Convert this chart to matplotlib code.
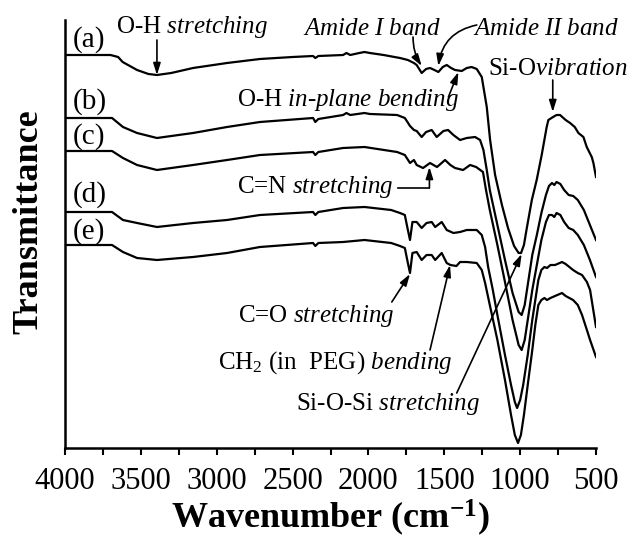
import matplotlib
matplotlib.use('Agg')
import matplotlib.pyplot as plt
from matplotlib.ticker import MultipleLocator

plt.rcParams['font.family'] = ['Liberation Serif', 'DejaVu Serif']
plt.rcParams['mathtext.fontset'] = 'custom'
plt.rcParams['mathtext.rm'] = 'Liberation Serif'
plt.rcParams['mathtext.it'] = 'Liberation Serif:italic'
plt.rcParams['mathtext.bf'] = 'Liberation Serif:bold'

# spectra (transmittance in arbitrary units, offset per sample)
wn_a = [4000, 3700, 3650, 3620, 3525, 3450, 3394, 3300, 3156, 2932, 2715, 2500, 2365, 2350, 2330,
        2167, 2145, 2120, 2060, 2026, 1990, 1900, 1792, 1740, 1700, 1682, 1649, 1620, 1594, 1565,
        1539, 1510, 1484, 1455, 1429, 1385, 1352, 1320, 1286, 1253, 1220, 1198, 1165, 1120, 1080,
        1040, 1010, 994, 975, 956, 923, 891, 858, 825, 814, 783, 760, 737, 700, 671, 640, 616,
        583, 561, 528, 517, 500]
t_a = [393, 393, 391, 386, 378, 374, 373, 375, 380, 385, 389, 391, 392, 390, 392,
       393, 395, 393, 395, 396, 395, 393, 390, 388, 385, 383, 375, 379, 380, 378,
       376, 381, 383, 380, 378, 377, 380, 381, 379, 371, 341, 308, 273, 243, 220,
       202, 195, 195, 203, 220, 248, 268, 293, 321, 328, 331, 333, 333, 328, 325, 321, 315,
       311, 301, 291, 285, 271]

wn_b = [4000, 3690, 3618, 3525, 3394, 3156, 2932, 2715, 2365, 2350, 2330, 2167, 2145, 2120, 2026,
        1990, 1811, 1760, 1726, 1700, 1682, 1649, 1620, 1583, 1550, 1506, 1475, 1440, 1396, 1352,
        1297, 1264, 1242, 1220, 1200, 1150, 1100, 1050, 1010, 990, 970, 950, 920, 890, 860, 830,
        810, 790, 775, 760, 735, 710, 680, 650, 620, 580, 540, 500]
t_b = [330, 330, 321, 315, 310, 315, 321, 326, 330, 326, 329, 333, 335, 333, 335,
       334, 333, 330, 322, 318, 317, 311, 316, 318, 311, 317, 318, 313, 308, 310,
       311, 308, 298, 278, 258, 223, 188, 155, 136, 133, 143, 163, 193, 213, 235, 253,
       262, 265, 263, 266, 264, 258, 253, 252, 248, 238, 223, 208]

wn_c = [4000, 3690, 3618, 3525, 3394, 3156, 2932, 2715, 2365, 2350, 2330, 2167, 2026, 1811, 1760,
        1726, 1700, 1682, 1640, 1594, 1548, 1495, 1460, 1429, 1376, 1330, 1290, 1245, 1225, 1200,
        1150, 1100, 1050, 1010, 990, 970, 950, 920, 890, 860, 830, 810, 790, 775, 760, 735, 710,
        680, 650, 620, 580, 540, 500]
t_c = [297, 297, 290, 283, 278, 283, 288, 293, 296, 293, 296, 300, 301, 296, 293,
       285, 288, 283, 280, 285, 281, 288, 283, 280, 278, 283, 281, 276, 258, 238,
       203, 166, 128, 103, 98, 108, 128, 158, 183, 208, 226, 233, 233, 231, 235, 233, 226,
       220, 218, 213, 203, 188, 171]

wn_d = [4000, 3690, 3618, 3525, 3394, 3156, 2932, 2715, 2365, 2350, 2330, 2167, 2026, 1850, 1792,
        1760, 1740, 1726, 1710, 1682, 1649, 1617, 1583, 1560, 1517, 1484, 1440, 1396, 1352, 1286,
        1253, 1231, 1211, 1180, 1150, 1100, 1060, 1035, 1020, 1000, 980, 950, 920, 900, 880, 860,
        840, 823, 800, 770, 724, 700, 651, 620, 592, 560, 539, 500]
t_d = [236, 236, 228, 225, 221, 225, 228, 233, 236, 233, 236, 240, 241, 238, 235,
       233, 218, 208, 226, 226, 220, 225, 226, 221, 226, 218, 215, 216, 218, 218,
       213, 201, 181, 158, 133, 93, 63, 46, 40, 48, 63, 93, 128, 148, 168, 178,
       181, 180, 183, 183, 186, 184, 178, 175, 173, 166, 158, 121]

wn_e = [4000, 3690, 3618, 3525, 3394, 3156, 2932, 2715, 2365, 2350, 2330, 2167, 2026, 1850, 1792,
        1760, 1740, 1726, 1710, 1682, 1649, 1617, 1583, 1560, 1517, 1484, 1460, 1420, 1396, 1352,
        1286, 1253, 1231, 1200, 1150, 1100, 1060, 1035, 1014, 995, 975, 950, 920, 900, 880, 860,
        840, 823, 800, 770, 724, 700, 651, 620, 592, 560, 539, 500]
t_e = [203, 203, 196, 190, 188, 191, 195, 201, 205, 202, 205, 206, 208, 205, 202,
       200, 185, 175, 195, 196, 188, 193, 193, 188, 195, 185, 183, 182, 186, 186,
       185, 178, 165, 143, 108, 68, 33, 13, 5, 13, 33, 63, 98, 123, 143, 148,
       150, 148, 150, 152, 155, 152, 148, 143, 133, 118, 108, 91]

curves = [(wn_a, t_a), (wn_b, t_b), (wn_c, t_c), (wn_d, t_d), (wn_e, t_e)]
names = ['(a)', '(b)', '(c)', '(d)', '(e)']
name_y = [408, 346, 311, 253, 216]

fig = plt.figure(figsize=(6.38, 5.41), dpi=100)
ax = fig.add_axes([65 / 638, 93 / 541, 531 / 638, 428 / 541])

for wn, t in curves:
    ax.plot(wn, t, color='black', lw=1.6)

for n, y in zip(names, name_y):
    ax.text(3950, y, n, fontsize=21, va='center', ha='left')

ax.set_xlim(4000, 500)
ax.set_ylim(0, 428)
ax.set_xticks([4000, 3500, 3000, 2500, 2000, 1500, 1000, 500])
ax.xaxis.set_minor_locator(MultipleLocator(250))
ax.tick_params(axis='x', which='major', direction='out', length=5, width=1.5, labelsize=22, pad=9)
ax.tick_params(axis='x', which='minor', direction='out', length=5, width=1.5)
ax.set_yticks([])
ax.spines['top'].set_visible(False)
ax.spines['right'].set_visible(False)
ax.spines['left'].set_linewidth(1.8)
ax.spines['bottom'].set_linewidth(1.8)

ax.set_xlabel(r'Wavenumber (cm$^{\mathbf{-1}}$)', fontsize=26, fontweight='bold', labelpad=1)
fig.text(29 / 638, 1 - 222 / 541, 'Transmittance', fontsize=26, fontweight='bold',
         rotation=90, ha='center', va='center')

# annotations
arrow = dict(arrowstyle='-|>,head_length=0.7,head_width=0.22', color='black', lw=1.2,
             shrinkA=0, shrinkB=0)
fs = 18
ax.text(3664, 415, r'O-H $\mathit{stretching}$', fontsize=fs)
ax.annotate('', xy=(3394, 373), xytext=(3394, 408), arrowprops=arrow)

ax.text(2431, 413, r'$\mathit{Amide\ I\ band}$', fontsize=fs)
ax.annotate('', xy=(1649, 382), xytext=(1706, 411),
            arrowprops=dict(arrow, connectionstyle='arc3,rad=0.15'))

ax.text(1310, 413, r'$\mathit{Amide\ II\ band}$', fontsize=fs, clip_on=False)
ax.annotate('', xy=(1539, 382), xytext=(1286, 423),
            arrowprops=dict(arrow, connectionstyle='arc3,rad=0.35'), annotation_clip=False)

ax.text(2866, 342, r'O-H $\mathit{in}$-$\mathit{plane\ bending}$', fontsize=fs)
ax.annotate('', xy=(1407, 376), xytext=(1473, 351), arrowprops=arrow)

ax.text(1212, 373, r'Si-O$\mathit{vibration}$', fontsize=fs, clip_on=False)
ax.annotate('', xy=(785, 336), xytext=(785, 368), arrowprops=arrow)

ax.text(2866, 255, r'C=N $\mathit{stretching}$', fontsize=fs)
ax.plot([1805, 1598], [260, 260], color='black', lw=1.2)
ax.annotate('', xy=(1598, 281), xytext=(1598, 260), arrowprops=arrow)

ax.text(2860, 126, r'C=O $\mathit{stretching}$', fontsize=fs)
ax.annotate('', xy=(1726, 174), xytext=(1846, 146), arrowprops=arrow)

ax.text(2991, 79, r'CH$_\mathrm{2}$ (in  PEG) $\mathit{bending}$', fontsize=fs)
ax.annotate('', xy=(1462, 183), xytext=(1594, 98), arrowprops=arrow)

ax.text(1264, 38, r'Si-O-Si $\mathit{stretching}$', fontsize=fs, ha='right')
ax.annotate('', xy=(990, 194), xytext=(1418, 55), arrowprops=arrow)

fig.savefig('out.png', dpi=100)
